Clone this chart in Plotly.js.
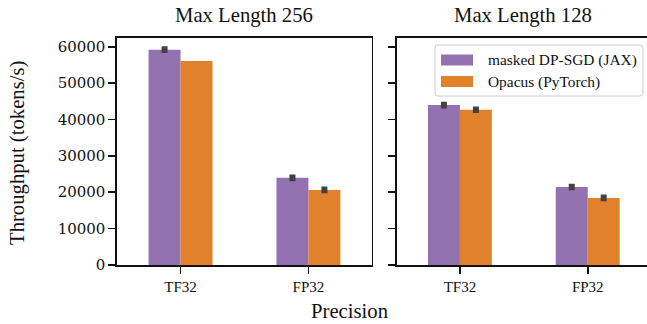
<!DOCTYPE html>
<html>
<head>
<meta charset="utf-8">
<script src="https://cdn.plot.ly/plotly-3.0.1.min.js"></script>
<style>html,body{margin:0;padding:0;background:#fff;}#chart{width:647px;height:324px;}</style>
</head>
<body>
<div id="chart"></div>
<script>
// ---- data ----
const categories = ['TF32', 'FP32'];
const seriesNames = ['masked DP-SGD (JAX)', 'Opacus (PyTorch)'];
const panelTitles = ['Max Length 256', 'Max Length 128'];
const jax256 = [59200, 23950];
const opacus256 = [56100, 20650];
const jax128 = [43950, 21450];
const opacus128 = [42650, 18450];
const jax256Err = [900, 900];
const opacus256Err = [0, 900];
const jax128Err = [900, 900];
const opacus128Err = [900, 900];
const yTicks = [0, 10000, 20000, 30000, 40000, 50000, 60000];
const yTickText = ['0', '10000', '20000', '30000', '40000', '50000', '60000'];
const xLabel = 'Precision';
const yLabel = 'Throughput (tokens/s)';

// ---- style ----
const W = 647, H = 324;
const M = {l: 117, r: 0, t: 38, b: 59};
const PW = W - M.l - M.r, PH = H - M.t - M.b;
const px = x => (x - M.l) / PW;
const py = y => (H - M.b - y) / PH;
const colors = ['#9372b2', '#e1812c'];
const errColor = '#424242';
const serif = 'Liberation Serif';
const numFont = 'DejaVu Serif';
const ink = '#111111';
const labelSize = 20.7;

function barTrace(y, err, i, xa, ya) {
  return {
    type: 'bar', x: categories, y: y, name: seriesNames[i],
    xaxis: xa, yaxis: ya, showlegend: false,
    marker: {color: colors[i], line: {width: 0}},
    error_y: {type: 'data', array: err, visible: true, color: errColor, thickness: 6, width: 0}
  };
}

const data = [
  barTrace(jax256, jax256Err, 0, 'x', 'y'),
  barTrace(opacus256, opacus256Err, 1, 'x', 'y'),
  barTrace(jax128, jax128Err, 0, 'x2', 'y2'),
  barTrace(opacus128, opacus128Err, 1, 'x2', 'y2')
];

function xAxis(extra) {
  return Object.assign({
    type: 'category', showline: true, linecolor: ink, linewidth: 1.6,
    ticks: 'outside', ticklen: 7, tickwidth: 1.6, tickcolor: ink,
    tickfont: {family: serif, size: 15, color: ink},
    showgrid: false, zeroline: false, fixedrange: true
  }, extra);
}
function yAxis(extra) {
  return Object.assign({
    range: [0, 62400], tickmode: 'array', tickvals: yTicks, ticktext: yTickText,
    showline: true, linecolor: ink, linewidth: 1.6,
    ticks: 'outside', ticklen: 7, tickwidth: 1.6, tickcolor: ink,
    tickfont: {family: numFont, size: 15, color: ink},
    showgrid: false, zeroline: false, fixedrange: true
  }, extra);
}

// legend (custom, matplotlib-like)
const lb = {x0: 435, x1: 643, y0: 45, y1: 96, r: 3};
const rx = lb.r / PW, ry = lb.r / PH;
const X0 = px(lb.x0), X1 = px(lb.x1), Y0 = py(lb.y1), Y1 = py(lb.y0);
const legendPath = `M${X0+rx},${Y0} L${X1-rx},${Y0} Q${X1},${Y0} ${X1},${Y0+ry} L${X1},${Y1-ry} Q${X1},${Y1} ${X1-rx},${Y1} L${X0+rx},${Y1} Q${X0},${Y1} ${X0},${Y1-ry} L${X0},${Y0+ry} Q${X0},${Y0} ${X0+rx},${Y0} Z`;
const rowCenters = [60, 81.5];

const shapes = [
  {type: 'path', xref: 'paper', yref: 'paper', path: legendPath,
   fillcolor: 'rgba(255,255,255,0.8)', line: {color: '#cccccc', width: 1}}
];
const annotations = [
  {text: panelTitles[0], xref: 'paper', yref: 'paper', x: px(244), y: py(16), xanchor: 'center', yanchor: 'middle', showarrow: false, font: {family: serif, size: labelSize, color: ink}},
  {text: panelTitles[1], xref: 'paper', yref: 'paper', x: px(523), y: py(16), xanchor: 'center', yanchor: 'middle', showarrow: false, font: {family: serif, size: labelSize, color: ink}},
  {text: xLabel, xref: 'paper', yref: 'paper', x: px(350), y: py(311), xanchor: 'center', yanchor: 'middle', showarrow: false, font: {family: serif, size: labelSize, color: ink}},
  {text: yLabel, xref: 'paper', yref: 'paper', x: px(17), y: py(153), xanchor: 'center', yanchor: 'middle', textangle: -90, showarrow: false, font: {family: serif, size: labelSize, color: ink}}
];
seriesNames.forEach((n, i) => {
  shapes.push({type: 'rect', xref: 'paper', yref: 'paper', x0: px(441), x1: px(473),
    y0: py(rowCenters[i] + 5.5), y1: py(rowCenters[i] - 5.5), fillcolor: colors[i], line: {width: 0}});
  annotations.push({text: n, xref: 'paper', yref: 'paper', x: px(486), y: py(rowCenters[i]),
    xanchor: 'left', yanchor: 'middle', showarrow: false, font: {family: serif, size: 15.4, color: ink}});
});

const layout = {
  width: W, height: H, margin: M,
  paper_bgcolor: '#ffffff', plot_bgcolor: '#ffffff',
  barmode: 'group', bargap: 0.5, bargroupgap: 0,
  showlegend: false,
  font: {family: serif, color: ink},
  xaxis: xAxis({domain: [0, px(371.7)], range: [-0.497, 1.495], mirror: true, anchor: 'y'}),
  yaxis: yAxis({mirror: true, anchor: 'x'}),
  xaxis2: xAxis({domain: [px(396.7), 1], range: [-0.495, 1.464], mirror: true, anchor: 'y2'}),
  yaxis2: yAxis({anchor: 'x2', showticklabels: false, mirror: false}),
  shapes: shapes,
  annotations: annotations
};

Plotly.newPlot('chart', data, layout, {staticPlot: true, displayModeBar: false});
</script>
</body>
</html>
